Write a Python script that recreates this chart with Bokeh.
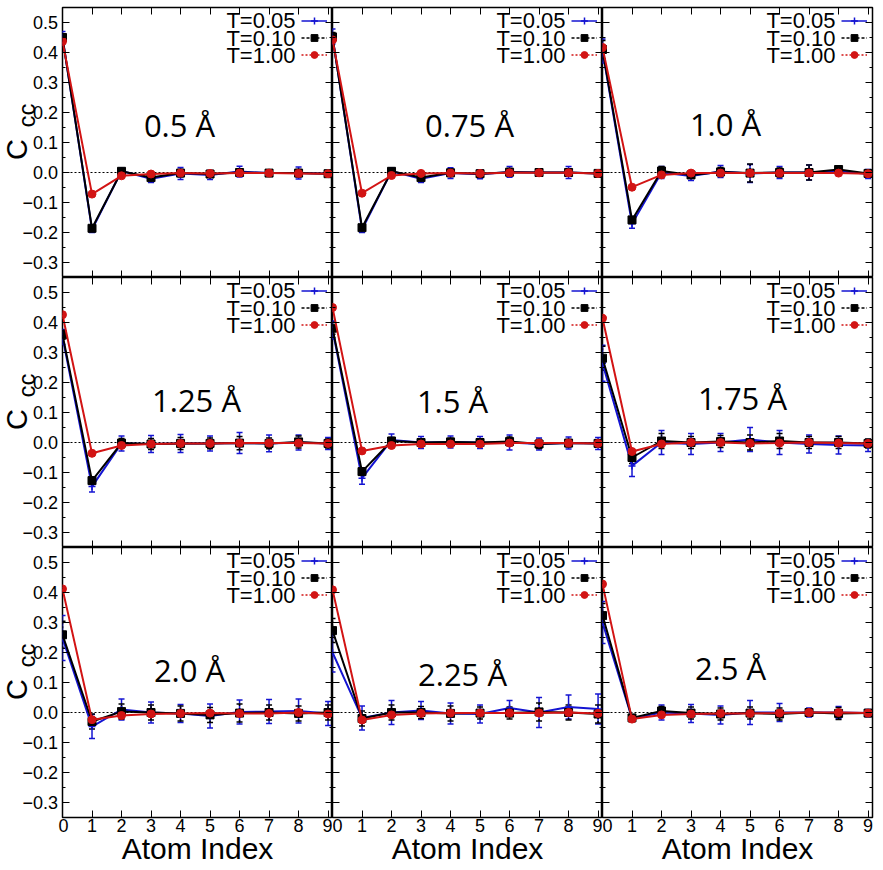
import math
from bokeh.plotting import figure
from bokeh.models import (ColumnDataSource, Whisker, TeeHead, Span, Label, Legend,
                          LegendItem, FixedTicker, LinearAxis, Range1d)
from bokeh.core.properties import value
from bokeh.layouts import gridplot
from bokeh.embed import file_html
from bokeh.resources import INLINE

# ---------------- data ----------------
atom_index = [0, 1, 2, 3, 4, 5, 6, 7, 8, 9]
y_ticks = [-0.3, -0.2, -0.1, 0.0, 0.1, 0.2, 0.3, 0.4, 0.5]
y_tick_labels = ["\u22120.3", "\u22120.2", "\u22120.1", "0.0", "0.1", "0.2", "0.3", "0.4", "0.5"]
y_minor_ticks = [-0.25, -0.15, -0.05, 0.05, 0.15, 0.25, 0.35, 0.45]
panel_titles = ["0.5 Å", "0.75 Å", "1.0 Å", "1.25 Å", "1.5 Å", "1.75 Å", "2.0 Å", "2.25 Å", "2.5 Å"]
series_names = ["T=0.05", "T=0.10", "T=1.00"]

cc_050_t005 = [0.450, -0.190, 0.005, -0.021, -0.003, -0.008, 0.003, -0.002, -0.002, -0.004]
cc_050_t010 = [0.450, -0.186, 0.004, -0.017, -0.002, -0.005, 0.000, -0.002, -0.002, -0.004]
cc_050_t100 = [0.437, -0.072, -0.011, -0.005, -0.002, -0.003, -0.002, -0.002, -0.003, -0.004]
err_050_t005 = [0.020, 0.010, 0.010, 0.012, 0.020, 0.015, 0.018, 0.010, 0.020, 0.008]
err_050_t010 = [0.012, 0.008, 0.008, 0.008, 0.012, 0.010, 0.010, 0.008, 0.012, 0.006]
err_050_t100 = [0.004, 0.004, 0.003, 0.003, 0.003, 0.003, 0.003, 0.003, 0.003, 0.003]

cc_075_t005 = [0.453, -0.190, 0.004, -0.021, -0.002, -0.006, 0.002, 0.000, 0.000, -0.003]
cc_075_t010 = [0.452, -0.184, 0.004, -0.017, -0.001, -0.004, 0.001, 0.000, 0.000, -0.003]
cc_075_t100 = [0.442, -0.069, -0.010, -0.003, -0.002, -0.003, -0.001, -0.001, -0.001, -0.003]
err_075_t005 = [0.025, 0.010, 0.012, 0.012, 0.018, 0.015, 0.018, 0.010, 0.020, 0.008]
err_075_t010 = [0.015, 0.008, 0.008, 0.008, 0.012, 0.010, 0.012, 0.008, 0.012, 0.006]
err_075_t100 = [0.004, 0.004, 0.003, 0.003, 0.003, 0.003, 0.003, 0.003, 0.003, 0.003]

cc_100_t005 = [0.405, -0.171, 0.000, -0.012, 0.003, -0.003, 0.000, 0.000, 0.005, -0.005]
cc_100_t010 = [0.410, -0.158, 0.005, -0.008, 0.002, -0.002, 0.000, 0.000, 0.010, -0.003]
cc_100_t100 = [0.417, -0.049, -0.008, -0.002, -0.002, -0.002, -0.002, -0.002, -0.002, -0.004]
err_100_t005 = [0.040, 0.015, 0.020, 0.015, 0.020, 0.030, 0.020, 0.025, 0.015, 0.015]
err_100_t010 = [0.030, 0.010, 0.015, 0.010, 0.015, 0.030, 0.015, 0.025, 0.012, 0.012]
err_100_t100 = [0.005, 0.004, 0.003, 0.003, 0.003, 0.003, 0.003, 0.003, 0.003, 0.003]

cc_125_t005 = [0.352, -0.147, -0.003, -0.005, -0.003, -0.003, -0.002, -0.003, 0.000, -0.003]
cc_125_t010 = [0.359, -0.127, -0.002, -0.005, -0.003, -0.003, -0.002, -0.003, 0.002, -0.003]
cc_125_t100 = [0.426, -0.036, -0.010, -0.005, -0.003, -0.003, -0.002, -0.002, -0.002, -0.003]
err_125_t005 = [0.025, 0.018, 0.025, 0.028, 0.030, 0.025, 0.035, 0.028, 0.025, 0.020]
err_125_t010 = [0.015, 0.012, 0.015, 0.018, 0.020, 0.018, 0.022, 0.018, 0.020, 0.015]
err_125_t100 = [0.005, 0.004, 0.003, 0.003, 0.003, 0.003, 0.003, 0.003, 0.003, 0.003]

cc_150_t005 = [0.375, -0.119, 0.008, 0.000, 0.002, 0.000, 0.000, -0.005, -0.002, -0.003]
cc_150_t010 = [0.381, -0.097, 0.005, 0.000, 0.002, 0.000, 0.003, -0.005, -0.002, -0.003]
cc_150_t100 = [0.450, -0.028, -0.010, -0.005, -0.005, -0.005, -0.002, -0.002, -0.002, -0.003]
err_150_t005 = [0.030, 0.020, 0.020, 0.020, 0.020, 0.020, 0.025, 0.020, 0.020, 0.020]
err_150_t010 = [0.020, 0.012, 0.012, 0.012, 0.012, 0.012, 0.015, 0.015, 0.012, 0.012]
err_150_t100 = [0.005, 0.004, 0.003, 0.003, 0.003, 0.003, 0.003, 0.003, 0.003, 0.003]

cc_175_t005 = [0.264, -0.078, 0.000, -0.005, 0.000, 0.010, 0.000, -0.005, -0.008, -0.010]
cc_175_t010 = [0.281, -0.050, 0.005, 0.000, 0.003, 0.000, 0.005, 0.000, 0.000, -0.003]
cc_175_t100 = [0.414, -0.030, -0.005, 0.000, 0.000, -0.003, -0.002, 0.000, -0.002, -0.003]
err_175_t005 = [0.060, 0.035, 0.040, 0.035, 0.030, 0.040, 0.040, 0.030, 0.030, 0.020]
err_175_t010 = [0.040, 0.020, 0.025, 0.020, 0.020, 0.025, 0.025, 0.020, 0.020, 0.015]
err_175_t100 = [0.005, 0.004, 0.003, 0.003, 0.003, 0.003, 0.003, 0.003, 0.003, 0.003]

cc_200_t005 = [0.248, -0.047, 0.010, 0.000, -0.003, -0.012, 0.002, 0.003, 0.005, -0.003]
cc_200_t010 = [0.259, -0.030, 0.003, 0.000, -0.003, -0.008, -0.002, 0.000, -0.003, 0.000]
cc_200_t100 = [0.412, -0.024, -0.010, -0.005, -0.003, -0.002, -0.003, -0.003, 0.000, -0.005]
err_200_t005 = [0.075, 0.040, 0.035, 0.035, 0.030, 0.040, 0.040, 0.040, 0.040, 0.040]
err_200_t010 = [0.045, 0.025, 0.025, 0.025, 0.025, 0.025, 0.030, 0.025, 0.025, 0.025]
err_200_t100 = [0.005, 0.004, 0.003, 0.003, 0.003, 0.003, 0.003, 0.003, 0.003, 0.003]

cc_225_t005 = [0.200, -0.018, 0.000, 0.007, -0.003, -0.005, 0.015, 0.000, 0.018, 0.012]
cc_225_t010 = [0.273, -0.020, 0.000, 0.000, -0.003, -0.002, -0.002, 0.002, 0.000, -0.005]
cc_225_t100 = [0.409, -0.025, -0.008, -0.003, -0.002, -0.002, -0.002, -0.002, 0.000, -0.003]
err_225_t005 = [0.065, 0.040, 0.040, 0.030, 0.035, 0.030, 0.025, 0.050, 0.040, 0.050]
err_225_t010 = [0.040, 0.025, 0.025, 0.020, 0.025, 0.020, 0.020, 0.030, 0.025, 0.030]
err_225_t100 = [0.005, 0.004, 0.003, 0.003, 0.003, 0.003, 0.003, 0.003, 0.003, 0.003]

cc_250_t005 = [0.300, -0.020, 0.000, -0.003, -0.008, 0.000, 0.000, 0.000, 0.000, -0.002]
cc_250_t010 = [0.323, -0.018, 0.005, -0.002, -0.005, -0.002, -0.005, 0.000, -0.003, -0.002]
cc_250_t100 = [0.428, -0.022, -0.008, -0.005, -0.003, -0.003, -0.002, 0.000, 0.000, -0.002]
err_250_t005 = [0.070, 0.010, 0.025, 0.030, 0.030, 0.040, 0.030, 0.015, 0.020, 0.012]
err_250_t010 = [0.040, 0.008, 0.015, 0.020, 0.020, 0.020, 0.020, 0.010, 0.020, 0.010]
err_250_t100 = [0.005, 0.004, 0.003, 0.003, 0.003, 0.003, 0.003, 0.003, 0.003, 0.003]

panel_series = [
    [(cc_050_t005, err_050_t005), (cc_050_t010, err_050_t010), (cc_050_t100, err_050_t100)],
    [(cc_075_t005, err_075_t005), (cc_075_t010, err_075_t010), (cc_075_t100, err_075_t100)],
    [(cc_100_t005, err_100_t005), (cc_100_t010, err_100_t010), (cc_100_t100, err_100_t100)],
    [(cc_125_t005, err_125_t005), (cc_125_t010, err_125_t010), (cc_125_t100, err_125_t100)],
    [(cc_150_t005, err_150_t005), (cc_150_t010, err_150_t010), (cc_150_t100, err_150_t100)],
    [(cc_175_t005, err_175_t005), (cc_175_t010, err_175_t010), (cc_175_t100, err_175_t100)],
    [(cc_200_t005, err_200_t005), (cc_200_t010, err_200_t010), (cc_200_t100, err_200_t100)],
    [(cc_225_t005, err_225_t005), (cc_225_t010, err_225_t010), (cc_225_t100, err_225_t100)],
    [(cc_250_t005, err_250_t005), (cc_250_t010, err_250_t010), (cc_250_t100, err_250_t100)],
]

# ---------------- layout / style ----------------
FW, FH = 270, 270
LABEL_COL_W = 58      # left strip holding y tick labels and the C_cc label
LEFT_PAD = 4          # border of the left column panels
title_offsets = [(117, 117), (137, 117), (123, 116), (134, 122), (120, 123),
                 (140, 120), (127, 122), (130, 126), (128, 120)]
BLUE = "#1414d2"
RED = "#d21414"
BLACK = "#000000"
series_style = [
    dict(color=BLUE, marker="cross", size=7, dash="solid", err_dash="solid"),
    dict(color=BLACK, marker="square", size=8, dash="3 2", err_dash="2 2"),
    dict(color=RED, marker="circle", size=8, dash="2 2", err_dash="2 2"),
]
TICK_FONT = "Liberation Sans"

x_ticker = FixedTicker(ticks=atom_index, minor_ticks=[])
y_ticker = FixedTicker(ticks=y_ticks, minor_ticks=y_minor_ticks)
x_blank = {t: "" for t in atom_index}
y_blank = {t: "" for t in y_ticks}


def style_axis(ax, ticker, show_labels, blank):
    ax.ticker = ticker
    ax.axis_line_color = None
    ax.major_tick_in = 7
    ax.major_tick_out = 0
    ax.minor_tick_in = 3
    ax.minor_tick_out = 0
    ax.major_tick_line_color = "black"
    ax.minor_tick_line_color = "black"
    ax.major_tick_line_width = 1
    if show_labels:
        ax.major_label_text_font = TICK_FONT
        ax.major_label_text_font_size = "18px"
        ax.major_label_text_color = "black"
        ax.major_label_standoff = 1
    else:
        ax.major_label_overrides = blank
        ax.major_label_text_font_size = "0px"
        ax.major_label_standoff = 0


def ylabel_column(r):
    """Left strip: y tick labels (drawn on the same y scale) and the rotated C_cc label."""
    q = figure(frame_width=LABEL_COL_W, frame_height=FH, output_backend="svg",
               toolbar_location=None, tools="", min_border=0,
               min_border_top=7 if r == 0 else 0,
               x_axis_location=None, y_axis_location=None,
               x_range=Range1d(0, LABEL_COL_W), y_range=Range1d(-0.35, 0.55))
    q.outline_line_color = None
    q.grid.visible = False
    tsrc = ColumnDataSource(dict(y=y_ticks, text=y_tick_labels))
    q.text(x=LABEL_COL_W - 0.5, y="y", text="text", source=tsrc,
           text_align="right", text_baseline="middle",
           text_font=value(TICK_FONT), text_font_size=value("18px"), text_color="black")
    q.add_layout(Label(x=16.5, y=FH - 142, x_units="screen", y_units="screen",
                       text="C", angle=math.pi / 2, text_align="center",
                       text_baseline="middle", text_font=TICK_FONT,
                       text_font_size="29px", text_color="black"))
    q.add_layout(Label(x=25.5, y=FH - 108, x_units="screen", y_units="screen",
                       text="cc", angle=math.pi / 2, text_align="center",
                       text_baseline="middle", text_font=TICK_FONT,
                       text_font_size="24px", text_color="black"))
    return q


rows = []
for r in range(3):
    row = [ylabel_column(r)]
    for c in range(3):
        k = 3 * r + c
        p = figure(frame_width=FW, frame_height=FH,
                   x_range=Range1d(0, 9.15), y_range=Range1d(-0.35, 0.55),
                   output_backend="svg", toolbar_location=None, tools="",
                   min_border=0,
                   min_border_left=LEFT_PAD if c == 0 else 0,
                   min_border_top=7 if r == 0 else 0,
                   min_border_right=6 if c == 2 else 0)
        p.extra_y_ranges = {"hidden": Range1d(1000, 1001)}
        p.grid.visible = False
        p.outline_line_color = "black"
        p.outline_line_width = 1.5
        p.background_fill_color = "white"

        style_axis(p.xaxis[0], x_ticker, r == 2, x_blank)
        style_axis(p.yaxis[0], y_ticker, False, y_blank)
        if r == 2:
            p.xaxis[0].axis_label = "Atom Index"
            p.xaxis[0].axis_label_text_font = TICK_FONT
            p.xaxis[0].axis_label_text_font_size = "30px"
            p.xaxis[0].axis_label_text_font_style = "normal"
            p.xaxis[0].axis_label_text_color = "black"
            p.xaxis[0].axis_label_standoff = -3
        top_ax = LinearAxis()
        style_axis(top_ax, x_ticker, False, x_blank)
        p.add_layout(top_ax, "above")
        right_ax = LinearAxis()
        style_axis(right_ax, y_ticker, False, y_blank)
        p.add_layout(right_ax, "right")

        p.add_layout(Span(location=0, dimension="width", line_color="black",
                          line_width=1, line_dash="2 2", level="underlay"))

        # data series
        items = []
        for (vals, errs), st in zip(panel_series[k], series_style):
            src = ColumnDataSource(dict(
                x=atom_index, y=vals,
                upper=[v + e for v, e in zip(vals, errs)],
                lower=[v - e for v, e in zip(vals, errs)]))
            p.line("x", "y", source=src, line_color=st["color"], line_width=2)
            w = Whisker(source=src, base="x", upper="upper", lower="lower",
                        line_color=st["color"], line_width=1.5, line_dash=st["err_dash"],
                        upper_head=TeeHead(size=6, line_color=st["color"], line_width=1.5),
                        lower_head=TeeHead(size=6, line_color=st["color"], line_width=1.5))
            p.add_layout(w)
            if st["marker"] == "cross":
                p.scatter("x", "y", source=src, marker="cross", size=st["size"],
                          line_color=st["color"], line_width=1.5)
            else:
                p.scatter("x", "y", source=src, marker=st["marker"], size=st["size"],
                          fill_color=st["color"], line_color=st["color"])
            # legend-only renderers (same data, drawn on an off-view range)
            lr = p.line("x", "y", source=src, y_range_name="hidden", line_color=st["color"],
                        line_width=1.5, line_dash=st["dash"])
            if st["marker"] == "cross":
                sr = p.scatter("x", "y", source=src, y_range_name="hidden", marker="cross",
                               line_color=st["color"], line_width=1.5)
            else:
                sr = p.scatter("x", "y", source=src, y_range_name="hidden",
                               marker=st["marker"], fill_color=st["color"],
                               line_color=st["color"])
            items.append(LegendItem(label=" ", renderers=[lr, sr]))

        leg = Legend(items=items, location="top_right", padding=0, spacing=0, margin=5,
                     glyph_width=26, glyph_height=17, label_width=0, label_height=17,
                     label_standoff=0, label_text_font_size="0px",
                     background_fill_alpha=0, border_line_alpha=0)
        p.add_layout(leg)
        for i, name in enumerate(series_names):
            p.add_layout(Label(x=FW - 37, y=FH - 13 - 17.5 * i, x_units="screen",
                               y_units="screen", text=name, text_align="right",
                               text_baseline="middle", text_font=TICK_FONT,
                               text_font_size="22px", text_color="black"))

        # panel title
        tx, ty = title_offsets[k]
        p.add_layout(Label(x=tx, y=FH - ty, x_units="screen", y_units="screen",
                           text=panel_titles[k], text_align="center", text_baseline="middle",
                           text_font="Open Sans", text_font_size="31px", text_color="black"))
        row.append(p)
    rows.append(row)

grid = gridplot(rows, toolbar_location=None)
open("out.html", "w").write(file_html(grid, INLINE))
